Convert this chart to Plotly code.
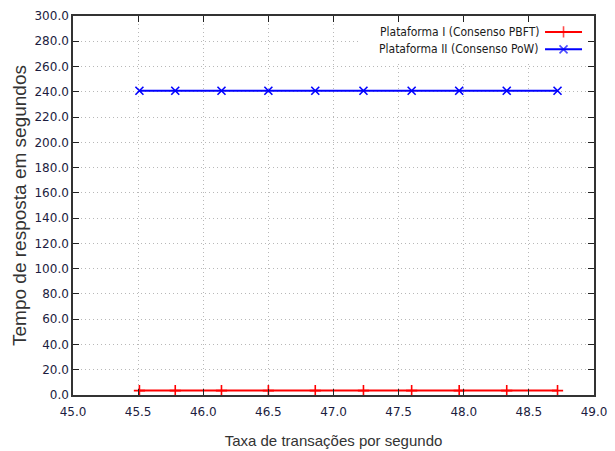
import plotly.graph_objects as go

tps = [45.51, 45.785, 46.14, 46.50, 46.86, 47.23, 47.60, 47.965, 48.33, 48.72]
pbft = [3.5] * 10
pow_ = [240.8] * 10
names = ["Plataforma I (Consenso PBFT)", "Plataforma II (Consenso PoW)"]
colors = ["#ff0000", "#0000ff"]
symbols = ["cross-thin", "x-thin"]
x_ticks = [45.0, 45.5, 46.0, 46.5, 47.0, 47.5, 48.0, 48.5, 49.0]
y_ticks = list(range(0, 301, 20))

tick_font = dict(family="DejaVu Sans", size=12, color="#1c1c40")
grid = dict(showgrid=True, gridcolor="#b8b8b8", griddash="1px,3px", gridwidth=1)

fig = go.Figure()
for yv, nm, c, s in zip([pbft, pow_], names, colors, symbols):
    fig.add_trace(go.Scatter(
        x=tps, y=yv, mode="lines+markers", name=nm, showlegend=False,
        line=dict(color=c, width=2),
        marker=dict(symbol=s, size=8, line=dict(color=c, width=1.6), color=c),
    ))

# opaque key box on the overlay axis (hides the grid behind the key, as in gnuplot)
fig.add_trace(go.Scatter(
    x=[0.547, 0.986, 0.986, 0.547, 0.547], y=[0.879, 0.879, 0.982, 0.982, 0.879],
    xaxis="x2", yaxis="y2", mode="lines", fill="toself", fillcolor="white",
    line=dict(width=0, color="white"), showlegend=False, hoverinfo="skip",
))

# legend samples on an overlay axis (0..1)
leg_y = [0.958, 0.912]
for ly, nm, c, s in zip(leg_y, names, colors, symbols):
    fig.add_trace(go.Scatter(
        x=[0.906, 0.9415, 0.977], y=[ly, ly, ly], xaxis="x2", yaxis="y2",
        mode="lines+markers", showlegend=False, hoverinfo="skip",
        line=dict(color=c, width=2),
        marker=dict(symbol=s, size=[0, 8, 0], line=dict(color=c, width=1.6), color=c),
    ))
    fig.add_annotation(x=0.898, y=ly, xref="x2", yref="y2", text=nm,
                       showarrow=False, xanchor="right", yanchor="middle",
                       font=dict(family="DejaVu Sans Condensed", size=12, color="#1a1a1a"))

fig.update_layout(
    width=615, height=451,
    margin=dict(l=73, r=21, t=16, b=56),
    plot_bgcolor="white", paper_bgcolor="white",
    xaxis=dict(
        range=[45, 49], tickvals=x_ticks, ticktext=[f"{v:.1f}" for v in x_ticks],
        ticks="inside", ticklen=6, tickcolor="#222", mirror="allticks",
        showline=True, linecolor="#333", linewidth=1.5, automargin=False,
        tickfont=tick_font, zeroline=False, ticklabelstandoff=5, **grid,
        title=dict(text="Taxa de transações por segundo", standoff=17,
                   font=dict(family="Liberation Sans", size=15, color="#333")),
    ),
    yaxis=dict(
        range=[0, 300], tickvals=y_ticks, ticktext=[f"{v:.1f}" for v in y_ticks],
        ticks="inside", ticklen=6, tickcolor="#222", mirror="allticks",
        showline=True, linecolor="#333", linewidth=1.5, automargin=False,
        tickfont=tick_font, zeroline=False, **grid,
        title=dict(text="Tempo de resposta em segundos", standoff=3,
                   font=dict(family="Liberation Sans", size=19, color="#333")),
    ),
    xaxis2=dict(range=[0, 1], overlaying="x", visible=False, fixedrange=True),
    yaxis2=dict(range=[0, 1], overlaying="y", visible=False, fixedrange=True),
)

fig.write_html("out.html", config={"displayModeBar": False},
               post_script="document.body.style.margin='0';")
